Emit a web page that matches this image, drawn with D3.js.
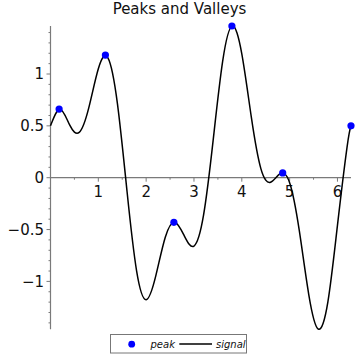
<!DOCTYPE html>
<html><head><meta charset="utf-8">
<script src="https://cdn.jsdelivr.net/npm/d3@7"></script>
<style>html,body{margin:0;padding:0;background:#fff;}svg{display:block;}</style>
</head><body>
<svg id="c" width="355" height="355"></svg>
<script>
// signal samples
const signalX = [0, 0.2, 0.4, 0.6, 0.8, 1.0, 1.2, 1.4, 1.6, 1.8, 2.0, 2.2, 2.4, 2.6, 2.8, 3.0,
  3.2, 3.4, 3.6, 3.8, 4.0, 4.2, 4.4, 4.6, 4.8, 5.0, 5.2, 5.4, 5.6, 5.8, 6.0, 6.2, 6.283];
const signalY = [0.5, 0.66, 0.509, 0.437, 0.673, 1.051, 1.156, 0.712, -0.131, -0.898, -1.176, -0.949,
  -0.574, -0.43, -0.563, -0.659, -0.362, 0.357, 1.124, 1.462, 1.194, 0.581, 0.085, -0.044, 0.038,
  -0.048, -0.504, -1.127, -1.46, -1.197, -0.46, 0.292, 0.5];
// peaks
const peakX = [0.18, 1.148, 2.58, 3.793, 4.855, 6.283];
const peakY = [0.662, 1.183, -0.43, 1.463, 0.046, 0.5];
// ticks
const xMajor = [1, 2, 3, 4, 5, 6];
const xMinor = [0.5, 1.5, 2.5, 3.5, 4.5, 5.5];
const yMajor = [-1, -0.5, 0, 0.5, 1];
const yMajorLabels = ["\u22121", "\u22120.5", "0", "0.5", "1"];
const yMinor = d3.range(-14, 15).filter(v => v % 5 !== 0).map(v => v / 10);

const svg = d3.select("#c");
const x = d3.scaleLinear().domain([0, 2 * Math.PI]).range([50.5, 351]);
const y = d3.scaleLinear().domain([-1.462, 1.463]).range([329.3, 26]);
const font = "DejaVu Sans, sans-serif";
const axisColor = "#7a7a7a";

// title
svg.append("text").attr("x", 179.5).attr("y", 14.3).attr("text-anchor", "middle")
  .attr("font-family", font).attr("font-size", 15).attr("fill", "#111").text("Peaks and Valleys");

// axes lines
svg.append("line").attr("x1", x(0)).attr("x2", x(2 * Math.PI)).attr("y1", y(0)).attr("y2", y(0))
  .attr("stroke", axisColor).attr("stroke-width", 1.2);
svg.append("line").attr("x1", x(0)).attr("x2", x(0)).attr("y1", y(1.463)).attr("y2", y(-1.462))
  .attr("stroke", axisColor).attr("stroke-width", 1.2);

// x ticks
svg.selectAll(".xM").data(xMajor).enter().append("line")
  .attr("x1", d => x(d)).attr("x2", d => x(d)).attr("y1", y(0)).attr("y2", y(0) + 4)
  .attr("stroke", axisColor).attr("stroke-width", 1);
svg.selectAll(".xm").data(xMinor).enter().append("line")
  .attr("x1", d => x(d)).attr("x2", d => x(d)).attr("y1", y(0)).attr("y2", y(0) + 2)
  .attr("stroke", axisColor).attr("stroke-width", 1);
svg.selectAll(".xl").data(xMajor).enter().append("text")
  .attr("x", d => x(d)).attr("y", y(0) + 19).attr("text-anchor", "middle")
  .attr("font-family", font).attr("font-size", 15).attr("fill", "#111").text(d => d);

// y ticks
svg.selectAll(".yM").data(yMajor).enter().append("line")
  .attr("x1", x(0) - 4).attr("x2", x(0)).attr("y1", d => y(d)).attr("y2", d => y(d))
  .attr("stroke", axisColor).attr("stroke-width", 1);
svg.selectAll(".ym").data(yMinor).enter().append("line")
  .attr("x1", x(0) - 2).attr("x2", x(0)).attr("y1", d => y(d)).attr("y2", d => y(d))
  .attr("stroke", axisColor).attr("stroke-width", 1);
svg.selectAll(".yl").data(yMajor).enter().append("text")
  .attr("x", 44).attr("y", d => y(d)).attr("dy", "0.36em").attr("text-anchor", "end")
  .attr("font-family", font).attr("font-size", 15).attr("fill", "#111")
  .text((d, i) => yMajorLabels[i]);

// signal line
const pts = signalX.map((v, i) => [v, signalY[i]]);
const line = d3.line().x(d => x(d[0])).y(d => y(d[1])).curve(d3.curveNatural);
svg.append("path").attr("d", line(pts)).attr("fill", "none")
  .attr("stroke", "#000").attr("stroke-width", 1.5);

// peak points
svg.selectAll(".pk").data(peakX).enter().append("circle")
  .attr("cx", d => x(d)).attr("cy", (d, i) => y(peakY[i])).attr("r", 3.6).attr("fill", "#0000ff");

// legend
const lg = svg.append("g");
lg.append("rect").attr("x", 110.5).attr("y", 334.5).attr("width", 136).attr("height", 18.5)
  .attr("fill", "#fff").attr("stroke", "#777").attr("stroke-width", 1);
lg.append("circle").attr("cx", 131.7).attr("cy", 344.2).attr("r", 3.4).attr("fill", "#0000ff");
lg.append("text").attr("x", 150.5).attr("y", 347.8).attr("font-family", font).attr("font-style", "italic")
  .attr("font-size", 10).attr("fill", "#111").text("peak");
lg.append("line").attr("x1", 179.3).attr("x2", 212).attr("y1", 344).attr("y2", 344)
  .attr("stroke", "#000").attr("stroke-width", 1.5);
lg.append("text").attr("x", 216).attr("y", 347.8).attr("font-family", font).attr("font-style", "italic")
  .attr("font-size", 10).attr("fill", "#111").text("signal");
</script>
</body></html>
